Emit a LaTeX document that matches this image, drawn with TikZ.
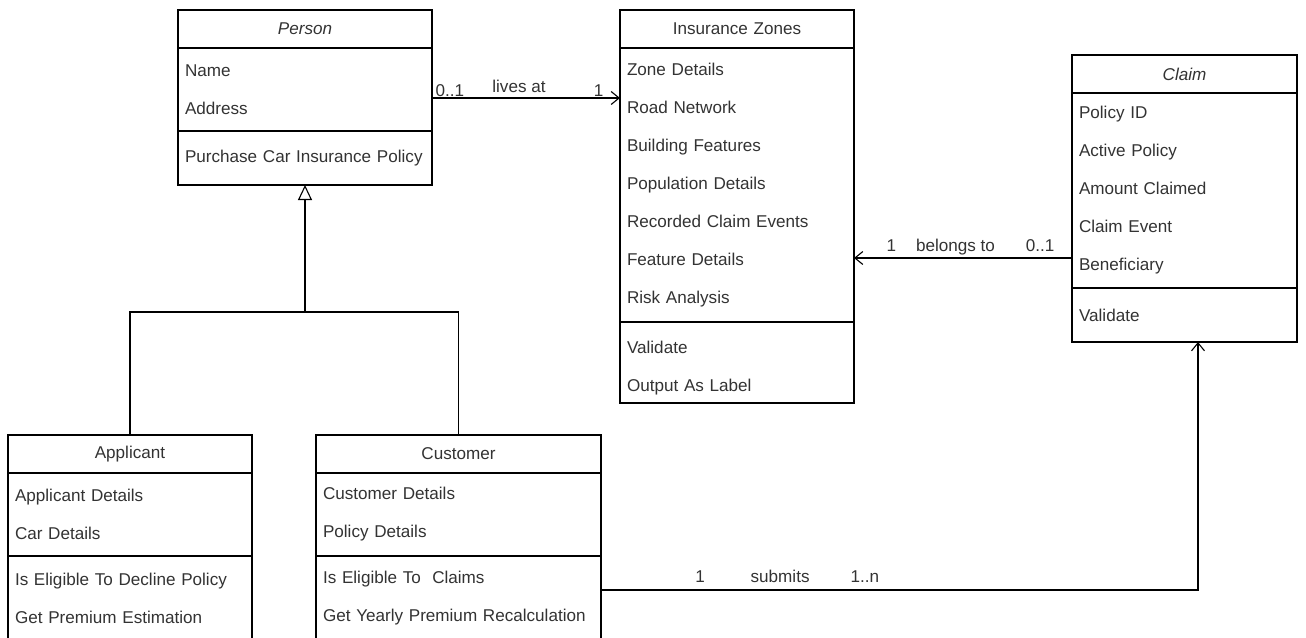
\documentclass[tikz,border=0pt]{standalone}
\usepackage{fontspec}
\setmainfont{Liberation Sans}
\usetikzlibrary{positioning, arrows.meta}
\hyphenpenalty=10000

\begin{document}
\begin{tikzpicture}[x=1pt, y=-1pt,
  every node/.style = {font=\fontsize{17.1}{38}\selectfont, text=black!80},
  classhead/.style = {shape=rectangle, draw=black, line width=1.1pt,
    inner xsep=7pt, inner ysep=0pt, outer sep=0pt, minimum height=38pt,
    text width=#1, align=center},
  classpart/.style 2 args = {shape=rectangle, draw=black, line width=1.1pt,
    inner xsep=7pt, inner ysep=0pt, outer sep=0pt, minimum height=#2,
    text width=#1, align=left},
  assoc/.style = {draw=black, line width=1.1pt,
    -{Straight Barb[length=8pt, width=13pt]}},
  inherit/.style = {draw=black, line width=1.1pt,
    -{Triangle[open, length=15pt, width=14pt, fill=white]}},
  mult/.style = {inner sep=2pt}]
  \path[use as bounding box, fill=white] (0,0) rectangle (1306,637);

  \node[classhead=240pt, anchor=north west] (person) at (178,10) {\textit{Person}};
  \node[classpart={240pt}{83pt}, below=0pt of person] (person-attr) {Name\\Address};
  \node[classpart={240pt}{54pt}, below=0pt of person-attr] (person-ops) {Purchase Car Insurance Policy};

  \node[classhead=220pt, anchor=north west] (zones) at (620,10) {Insurance Zones};
  \node[classpart={220pt}{274pt}, below=0pt of zones] (zones-attr)
    {Zone Details\\Road Network\\Building Features\\Population Details\\Recorded Claim Events\\Feature Details\\Risk Analysis};
  \node[classpart={220pt}{81pt}, below=0pt of zones-attr] (zones-ops) {\rule{0pt}{24pt}Validate\\Output As Label};

  \node[classhead=211pt, anchor=north west] (claim) at (1072,55) {\textit{Claim}};
  \node[classpart={211pt}{195pt}, below=0pt of claim] (claim-attr)
    {Policy ID\\Active Policy\\Amount Claimed\\Claim Event\\Beneficiary};
  \node[classpart={211pt}{54pt}, below=0pt of claim-attr] (claim-ops) {Validate};

  \node[classhead=230pt, anchor=north west] (applicant) at (8,435) {Applicant};
  \node[classpart={230pt}{83pt}, below=0pt of applicant] (applicant-attr) {Applicant Details\\Car Details};
  \node[classpart={230pt}{84pt}, below=0pt of applicant-attr] (applicant-ops)
    {Is Eligible To Decline Policy\\Get Premium Estimation};

  \node[classhead=271pt, anchor=north west] (customer) at (316,435) {Customer};
  \node[classpart={271pt}{83pt}, below=0pt of customer] (customer-attr) {Customer Details\\Policy Details};
  \node[classpart={271pt}{84pt}, below=0pt of customer-attr] (customer-ops)
    {Is Eligible To\ \ Claims\\Get Yearly Premium Recalculation};

  \coordinate (gen) at ([yshift=-127pt]person-ops.south);
  \draw[inherit] (applicant.north) |- (gen) -- (person-ops.south);
  \draw[draw=black, line width=1.1pt] (customer.north) |- (gen);

  \draw[assoc] ([yshift=-8.5pt]person-attr.east) coordinate (lives-from) -- (lives-from -| zones-attr.west)
    node[mult, pos=0, anchor=base west, xshift=1pt, yshift=2pt] (lives-src) {0..1}
    node[mult, midway, anchor=base, xshift=-7pt, yshift=6pt] (lives-lbl) {lives at}
    node[mult, pos=1, anchor=base east, xshift=-14pt, yshift=2pt] (lives-dst) {1};

  \draw[assoc] ([yshift=-67.5pt]claim-attr.west) coordinate (belongs-from) -- (belongs-from -| zones-attr.east)
    node[mult, pos=0, anchor=base east, xshift=-15pt, yshift=6.5pt] (belongs-src) {0..1}
    node[mult, midway, anchor=base, xshift=-7.5pt, yshift=6.5pt] (belongs-lbl) {belongs to}
    node[mult, pos=1, anchor=base west, xshift=30pt, yshift=6.5pt] (belongs-dst) {1};

  \draw[assoc] ([yshift=8pt]customer-ops.east) -| ([xshift=13.5pt]claim-ops.south)
    node[mult, pos=0.083, anchor=base, yshift=8pt] (submits-src) {1}
    node[mult, pos=0.150, anchor=base, yshift=8pt] (submits-lbl) {submits}
    node[mult, pos=0.221, anchor=base, yshift=8pt] (submits-dst) {1..n};
\end{tikzpicture}
\end{document}
